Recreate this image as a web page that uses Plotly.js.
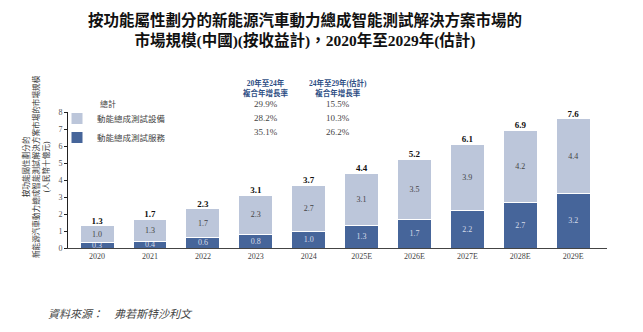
<!DOCTYPE html>
<html>
<head>
<meta charset="utf-8">
<script src="https://cdn.plot.ly/plotly-3.0.1.min.js"></script>
<style>
html,body{margin:0;padding:0;background:#fff;}
#chart{width:643px;height:332px;}
</style>
</head>
<body>
<div id="chart"></div>
<script>
// ---- data ----
const years = ['2020','2021','2022','2023','2024','2025E','2026E','2027E','2028E','2029E'];
const services = [0.3, 0.4, 0.6, 0.8, 1.0, 1.3, 1.7, 2.2, 2.7, 3.2];
const equipment = [1.0, 1.3, 1.7, 2.3, 2.7, 3.1, 3.5, 3.9, 4.2, 4.4];
const totals = [1.3, 1.7, 2.3, 3.1, 3.7, 4.4, 5.2, 6.1, 6.9, 7.6];
const seriesNames = ['動能總成測試服務', '動能總成測試設備'];
const cagrRowLabels = ['總計', '動能總成測試設備', '動能總成測試服務'];
const cagrHeaders = ['20年至24年<br>複合年增長率', '24年至29年(估計)<br>複合年增長率'];
const cagr2024 = ['29.9%', '28.2%', '35.1%'];
const cagr2029 = ['15.5%', '10.3%', '26.2%'];
const yTicks = [0,1,2,3,4,5,6,7,8];

const FONT = '"Liberation Serif", "Noto Sans CJK TC", serif';
const DARK = '#46659a';
const LIGHT = '#bcc6da';

const traces = [
  {
    type: 'bar', x: years, y: services, name: seriesNames[0],
    marker: {color: DARK, line: {color: '#ffffff', width: 1}},
    text: services.map(v => v.toFixed(1)), textposition: 'inside',
    insidetextanchor: 'middle', constraintext: 'none',
    textfont: {family: FONT, size: 8, color: '#d6dce8'},
    hoverinfo: 'skip'
  },
  {
    type: 'bar', x: years, y: equipment, name: seriesNames[1],
    marker: {color: LIGHT, line: {color: '#ffffff', width: 1}},
    text: equipment.map(v => v.toFixed(1)), textposition: 'inside',
    insidetextanchor: 'middle', constraintext: 'none',
    textfont: {family: FONT, size: 8, color: '#444444'},
    hoverinfo: 'skip'
  },
  {
    type: 'scatter', mode: 'text', x: years, y: totals,
    text: totals.map(v => '<b>' + v.toFixed(1) + '</b>'),
    textposition: 'top center', cliponaxis: false,
    textfont: {family: FONT, size: 9, color: '#111111'},
    showlegend: false, hoverinfo: 'skip'
  }
];

// plot-area helpers (pixel -> paper)
const L = 68, R = 36, T = 112, B = 84, W = 643, H = 332;
const pw = W - L - R, ph = H - T - B;
const px = x => (x - L) / pw;
const py = y => (H - B - y) / ph;

const annotations = [];
// y-axis title
annotations.push({
  xref: 'paper', yref: 'paper', x: px(36), y: py(167),
  xanchor: 'center', yanchor: 'middle', textangle: -90, showarrow: false,
  text: '按功能屬性劃分的<br>新能源汽車動力總成智能測試解決方案市場的市場規模<br>(人民幣十億元)',
  font: {family: FONT, size: 7.6, color: '#333333'}
});
// CAGR headers
const colX = [266, 338];
cagrHeaders.forEach((h, i) => annotations.push({
  xref: 'paper', yref: 'paper', x: px(colX[i]), y: py(88),
  xanchor: 'center', yanchor: 'middle', showarrow: false,
  text: '<b>' + h + '</b>', font: {family: FONT, size: 7.5, color: '#2f4f85'}
}));
const rowY = [104, 118, 132];
// 總計 label
annotations.push({
  xref: 'paper', yref: 'paper', x: px(108), y: py(rowY[0]),
  xanchor: 'center', yanchor: 'middle', showarrow: false,
  text: cagrRowLabels[0], font: {family: FONT, size: 8, color: '#444444'}
});
[cagr2024, cagr2029].forEach((col, i) => col.forEach((v, j) => annotations.push({
  xref: 'paper', yref: 'paper', x: px(colX[i]), y: py(rowY[j]),
  xanchor: 'center', yanchor: 'middle', showarrow: false,
  text: v, font: {family: FONT, size: 9, color: '#444444'}
})));
// source
annotations.push({
  xref: 'paper', yref: 'paper', x: px(46), y: py(314),
  xanchor: 'left', yanchor: 'middle', showarrow: false,
  text: '<i>資料來源：　弗若斯特沙利文</i>',
  font: {family: FONT, size: 11, color: '#444444'}
});

const layout = {
  width: W, height: H,
  margin: {l: L, r: R, t: T, b: B, pad: 0},
  paper_bgcolor: '#ffffff', plot_bgcolor: '#ffffff',
  font: {family: FONT, color: '#333333'},
  title: {
    text: '<b>按功能屬性劃分的新能源汽車動力總成智能測試解決方案市場的<br>市場規模(中國)(按收益計)，2020年至2029年(估計)</b>',
    x: 305 / W, xanchor: 'center', xref: 'container',
    y: 1 - 26 / H, yanchor: 'top', yref: 'container',
    font: {family: FONT, size: 15.5, color: '#111111'}
  },
  barmode: 'stack', bargap: 0.36,
  xaxis: {
    type: 'category', range: [-0.55, 9.64], showline: true, linecolor: '#444444', linewidth: 1,
    ticks: '', tickfont: {family: FONT, size: 8, color: '#444444'}, showgrid: false, zeroline: false,
    fixedrange: true
  },
  yaxis: {
    range: [0, 8], tickvals: yTicks, showline: true, linecolor: '#222222', linewidth: 1,
    ticks: 'outside', ticklen: 3, tickcolor: '#222222',
    tickfont: {family: FONT, size: 8, color: '#555555'}, showgrid: false, zeroline: false,
    fixedrange: true
  },
  showlegend: true,
  legend: {
    x: px(57), y: py(104), xanchor: 'left', yanchor: 'top',
    traceorder: 'reversed', bgcolor: 'rgba(0,0,0,0)',
    font: {family: FONT, size: 8.5, color: '#444444'},
    tracegroupgap: 0, itemwidth: 30
  },
  annotations: annotations
};

Plotly.newPlot('chart', traces, layout, {displayModeBar: false, staticPlot: true});
</script>
</body>
</html>
